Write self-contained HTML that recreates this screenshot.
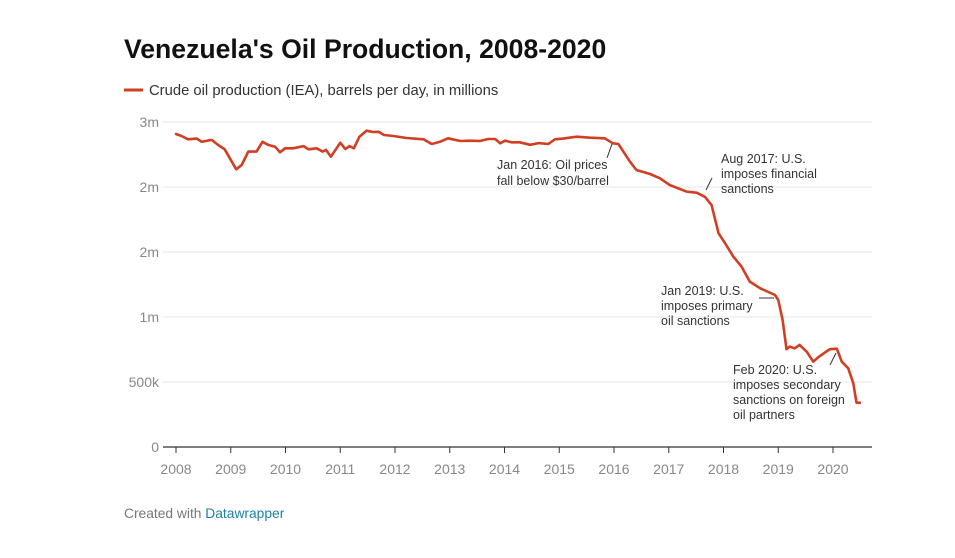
<!DOCTYPE html>
<html><head><meta charset="utf-8"><style>
body{margin:0;background:#fff;font-family:"Liberation Sans",sans-serif;}
svg{display:block}
</style></head><body>
<svg id="chart" width="955" height="558" viewBox="0 0 955 558">
<text x="124" y="58" font-size="26.6" font-weight="bold" fill="#111">Venezuela's Oil Production, 2008-2020</text>
<g>
<line x1="124" y1="90" x2="143" y2="90" stroke="#d13f22" stroke-width="3"/>
<text x="149" y="95" font-size="14.8" fill="#333">Crude oil production (IEA), barrels per day, in millions</text>
</g>
<g id="grid"></g><g id="xaxis"></g>
<polyline id="line" fill="none" stroke="#d13f22" stroke-width="2.6" stroke-linejoin="round" stroke-linecap="round"/>
<g font-size="12.5" fill="#333">
<g><text x="497" y="169">Jan 2016: Oil prices</text><text x="497" y="185">fall below $30/barrel</text><line x1="607" y1="158" x2="612" y2="144" stroke="#333"/></g>
<g><text x="721" y="163">Aug 2017: U.S.</text><text x="721" y="178">imposes financial</text><text x="721" y="193">sanctions</text><line x1="706" y1="190" x2="712" y2="178" stroke="#333"/></g>
<g><text x="661" y="295">Jan 2019: U.S.</text><text x="661" y="310">imposes primary</text><text x="661" y="325">oil sanctions</text><line x1="759" y1="298" x2="774" y2="298" stroke="#333"/></g>
<g><text x="733" y="374">Feb 2020: U.S.</text><text x="733" y="389">imposes secondary</text><text x="733" y="404">sanctions on foreign</text><text x="733" y="419">oil partners</text><line x1="830" y1="365" x2="836" y2="353" stroke="#333"/></g>
</g>
<text x="124" y="518" font-size="13.8" fill="#777">Created with <tspan fill="#1d81a2">Datawrapper</tspan></text>
</svg>
<script>
const years=[2008.00,2008.10,2008.22,2008.38,2008.47,2008.65,2008.77,2008.89,2009.10,2009.20,2009.32,2009.47,2009.58,2009.69,2009.81,2009.90,2009.99,2010.14,2010.33,2010.42,2010.57,2010.68,2010.74,2010.83,2011.00,2011.09,2011.17,2011.25,2011.35,2011.48,2011.60,2011.70,2011.80,2011.97,2012.21,2012.52,2012.67,2012.82,2012.97,2013.19,2013.37,2013.55,2013.70,2013.83,2013.92,2014.01,2014.13,2014.28,2014.47,2014.62,2014.80,2014.92,2015.07,2015.32,2015.56,2015.83,2015.98,2016.08,2016.29,2016.41,2016.66,2016.84,2017.02,2017.33,2017.51,2017.66,2017.78,2017.91,2018.03,2018.18,2018.33,2018.48,2018.67,2018.94,2019.00,2019.08,2019.15,2019.21,2019.30,2019.39,2019.52,2019.64,2019.73,2019.94,2020.07,2020.16,2020.28,2020.37,2020.43,2020.49];
const production=[2408,2392,2367,2372,2348,2362,2323,2290,2136,2169,2272,2272,2348,2323,2310,2267,2298,2298,2315,2290,2298,2272,2285,2233,2341,2292,2315,2298,2387,2433,2423,2425,2400,2392,2377,2367,2331,2348,2375,2354,2356,2354,2369,2369,2336,2356,2344,2344,2325,2338,2331,2367,2372,2387,2379,2375,2336,2331,2195,2131,2100,2067,2015,1964,1956,1925,1862,1644,1567,1464,1387,1272,1221,1169,1131,977,752,772,759,785,733,656,690,752,756,656,605,490,341,341];
const yTicks=[0,500,1000,1500,2000,2500];
const yTickLabels=["0","500k","1m","2m","2m","3m"];
const xTicks=[2008,2009,2010,2011,2012,2013,2014,2015,2016,2017,2018,2019,2020];
const NS="http://www.w3.org/2000/svg";
const xs=y=>176+(y-2008)*54.75;
const ys=v=>447-v*0.13;
function mk(tag,attrs,parent){const e=document.createElementNS(NS,tag);for(const k in attrs)e.setAttribute(k,attrs[k]);parent.appendChild(e);return e;}
const grid=document.getElementById('grid');
yTicks.forEach((t,i)=>{
  if(t>0){const l=mk('line',{x1:163,x2:872,y1:ys(t),y2:ys(t),stroke:'#e4e4e4'},grid);
  
  }
  const tx=mk('text',{x:159,y:ys(t)+5,'text-anchor':'end','font-size':14,fill:'#888'},grid);
  tx.textContent=yTickLabels[i];
  
  
});
const xa=document.getElementById('xaxis');
const ax=mk('line',{x1:163,x2:872,y1:447,y2:447,stroke:'#333','stroke-width':1.3},xa);


xTicks.forEach(t=>{
  const tk=mk('line',{x1:xs(t),x2:xs(t),y1:447,y2:453,stroke:'#333'},xa);
  
  
  const tx=mk('text',{x:xs(t),y:474,'text-anchor':'middle','font-size':14,fill:'#888'},xa);
  tx.textContent=t;
  
  
});
document.getElementById('line').setAttribute('points',years.map((y,i)=>xs(y).toFixed(1)+','+ys(production[i]).toFixed(1)).join(' '));
</script>
</body></html>
